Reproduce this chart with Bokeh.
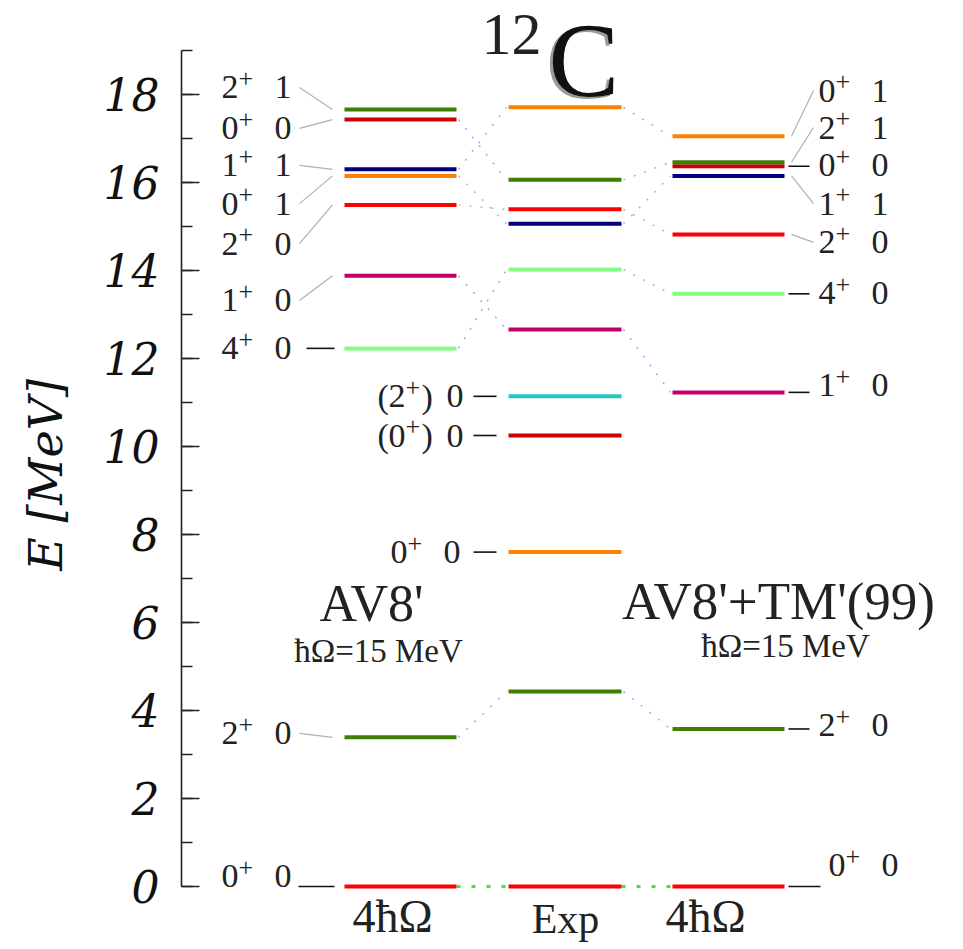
from bokeh.plotting import figure
from bokeh.models import ColumnDataSource, Range1d, FixedTicker
from bokeh.embed import file_html
from bokeh.resources import INLINE
from bokeh.core.properties import value

# ---------------- data ----------------
# AV8' , 4 hbar Omega, hbar Omega = 15 MeV
av8_E = [0.00, 3.39, 12.23, 13.88, 15.49, 16.15, 16.30, 17.43, 17.66]
av8_J = ["0", "2", "4", "1", "2", "0", "1", "0", "2"]
av8_T = ["0", "0", "0", "0", "0", "1", "1", "0", "1"]

# Experiment
exp_E = [0.00, 4.43, 7.60, 10.25, 11.14, 12.66, 14.02, 15.06, 15.39, 16.06, 17.71]
exp_lab_E = [7.60, 10.25, 11.14]
exp_lab_J = ["0", "0", "2"]
exp_lab_T = ["0", "0", "0"]
exp_lab_tentative = [False, True, True]

# AV8' + TM'(99), 4 hbar Omega
tm_E = [0.00, 3.58, 11.23, 13.47, 14.82, 16.15, 16.37, 16.46, 17.05]
tm_J = ["0", "2", "1", "4", "2", "1", "0", "2", "0"]
tm_T = ["0", "0", "0", "0", "0", "1", "0", "1", "1"]

y_ticks = [0, 2, 4, 6, 8, 10, 12, 14, 16, 18]

# ---------------- styles / layout ----------------
RED, GREEN, LGREEN, MAG = "#ff0000", "#3f7f00", "#80ff80", "#c0006a"
ORANGE, NAVY, DRED, CYAN = "#ff8000", "#000080", "#cc0000", "#20c8c8"
av8_colors = [RED, GREEN, LGREEN, MAG, RED, ORANGE, NAVY, DRED, GREEN]
exp_colors = [RED, GREEN, ORANGE, DRED, CYAN, MAG, LGREEN, NAVY, RED, GREEN, ORANGE]
tm_colors = [RED, GREEN, MAG, LGREEN, RED, NAVY, DRED, GREEN, ORANGE]

# label placement (label centre heights, MeV) and connector kind
av8_label_y = [0.23, 3.48, 12.23, 13.32, 14.61, 15.52, 16.39, 17.23, 18.16]
av8_conn = ["dash", "grey", "dash", "grey", "grey", "grey", "grey", "grey", "grey"]
tm_label_y = [0.48, 3.66, 11.39, 13.48, 14.64, 15.52, 16.39, 17.25, 18.09]
tm_conn = ["dash", "dash", "dash", "dash", "grey", "grey", "dash", "grey", "grey"]

# column x-extents (screen-like units)
COL_L = (344, 456)
COL_E = (508, 621)
COL_R = (672, 784)

Y0PX, PXPM = 886.0, 44.0          # pixel of E=0 and pixels per MeV
def py(px):
    return (Y0PX - px) / PXPM

# links between columns: (index, index, colour)
BLUE_D, BROWN_D, GREEN_D = "#8a90ff", "#c09898", "#60e060"
links_LE = [(1, 1, BLUE_D), (2, 6, BLUE_D), (3, 5, BLUE_D), (4, 8, GREEN_D),
            (5, 7, BROWN_D), (6, 10, BLUE_D), (7, 9, BLUE_D)]
links_ER = [(1, 1, BLUE_D), (5, 2, BLUE_D), (6, 3, BLUE_D), (8, 4, GREEN_D),
            (7, 5, BROWN_D), (9, 7, BLUE_D), (10, 8, BLUE_D)]

SERIF = value("Liberation Serif")

p = figure(width=963, height=949, output_backend="svg", toolbar_location=None,
           x_range=Range1d(181, 963), y_range=Range1d(py(949), py(0)),
           x_axis_location=None, min_border_left=181, min_border_right=0,
           min_border_top=0, min_border_bottom=0)
p.outline_line_color = None
p.xgrid.visible = False
p.ygrid.visible = False
p.background_fill_color = "white"
p.border_fill_color = "white"

ax = p.yaxis[0]
ax.ticker = FixedTicker(ticks=y_ticks, minor_ticks=list(range(0, 20)))
ax.bounds = (0, 19)
ax.axis_line_width = 1.6
ax.axis_line_color = "#222222"
ax.major_tick_in = 18
ax.major_tick_out = 0
ax.minor_tick_in = 11
ax.minor_tick_out = 0
ax.major_tick_line_width = 1.6
ax.minor_tick_line_width = 1.6
ax.major_tick_line_color = "#222222"
ax.minor_tick_line_color = "#222222"
ax.major_label_text_font = "DejaVu Serif"
ax.major_label_text_font_style = "italic"
ax.major_label_text_font_size = "44px"
ax.major_label_text_color = "#111111"
ax.major_label_standoff = 22
ax.axis_label = "E [MeV]"
ax.axis_label_text_font = "DejaVu Serif"
ax.axis_label_text_font_style = "italic"
ax.axis_label_text_font_size = "46px"
ax.axis_label_text_color = "#111111"
ax.axis_label_standoff = 28

# ---------------- connectors between columns ----------------
def add_links(links, EA, EB, colA, colB):
    for a, b, c in links:
        p.line([colA[1] + 2, colB[0] - 2], [EA[a], EB[b]], line_color=c,
               line_width=1.5, line_dash="2 9", line_alpha=0.8)

add_links(links_LE, av8_E, exp_E, COL_L, COL_E)
add_links(links_ER, exp_E, tm_E, COL_E, COL_R)
# ground state links
p.line([COL_L[1], COL_E[0]], [av8_E[0], exp_E[0]], line_color="#33ee33", line_width=3, line_dash="4 11")
p.line([COL_E[1], COL_R[0]], [exp_E[0], tm_E[0]], line_color="#33ee33", line_width=3, line_dash="4 11")

# ---------------- levels ----------------
def levels(E, colors, col):
    src = ColumnDataSource(dict(x0=[col[0]] * len(E), x1=[col[1]] * len(E), y=E, c=colors))
    p.segment(x0="x0", y0="y", x1="x1", y1="y", line_color="c", line_width=4,
              line_cap="butt", source=src)

levels(av8_E, av8_colors, COL_L)
levels(exp_E, exp_colors, COL_E)
levels(tm_E, tm_colors, COL_R)

# ---------------- state labels ----------------
dig = dict(x=[], y=[], t=[])
plus = dict(x=[], y=[], t=[])

def add_label(x, yv, J, T, paren=False):
    if paren:
        for dx, s in ((0, "("), (11, J), (44, ")"), (69, T)):
            dig["x"].append(x + dx); dig["y"].append(yv); dig["t"].append(s)
        plus["x"].append(x + 28); plus["y"].append(yv); plus["t"].append("+")
    else:
        for dx, s in ((0, J), (53, T)):
            dig["x"].append(x + dx); dig["y"].append(yv); dig["t"].append(s)
        plus["x"].append(x + 17); plus["y"].append(yv); plus["t"].append("+")

grey_seg = dict(x0=[], y0=[], x1=[], y1=[])
black_seg = dict(x0=[], y0=[], x1=[], y1=[])

# left column labels
for i in range(len(av8_E)):
    add_label(221, av8_label_y[i], av8_J[i], av8_T[i])
    if av8_conn[i] == "dash":
        x0 = 306 if i else 298
        black_seg["x0"].append(x0); black_seg["x1"].append(334)
        black_seg["y0"].append(av8_E[i]); black_seg["y1"].append(av8_E[i])
    else:
        grey_seg["x0"].append(299); grey_seg["x1"].append(332)
        grey_seg["y0"].append(av8_label_y[i]); grey_seg["y1"].append(av8_E[i])

# experimental labels
for E, J, T, tent in zip(exp_lab_E, exp_lab_J, exp_lab_T, exp_lab_tentative):
    add_label(377 if tent else 390, E, J, T, paren=tent)
    black_seg["x0"].append(473); black_seg["x1"].append(496)
    black_seg["y0"].append(E); black_seg["y1"].append(E)

# right column labels
for i in range(len(tm_E)):
    add_label(828 if i == 0 else 818, tm_label_y[i], tm_J[i], tm_T[i])
    if tm_conn[i] == "dash":
        x1 = 820 if i == 0 else 809
        black_seg["x0"].append(788); black_seg["x1"].append(x1)
        black_seg["y0"].append(tm_E[i]); black_seg["y1"].append(tm_E[i])
    else:
        grey_seg["x0"].append(791); grey_seg["x1"].append(813)
        grey_seg["y0"].append(tm_E[i]); grey_seg["y1"].append(tm_label_y[i])

p.segment(x0="x0", y0="y0", x1="x1", y1="y1", line_color="#b0b0b0", line_width=1.2,
          source=ColumnDataSource(grey_seg))
p.segment(x0="x0", y0="y0", x1="x1", y1="y1", line_color="#111111", line_width=1.6,
          source=ColumnDataSource(black_seg))

p.text(x="x", y="y", text="t", source=ColumnDataSource(dig), text_font=SERIF,
       text_font_size="34px", text_baseline="middle", text_align="left",
       y_offset=0, text_color="#222222")
p.text(x="x", y="y", text="t", source=ColumnDataSource(plus), text_font=SERIF,
       text_font_size="26px", text_baseline="middle", text_align="left",
       y_offset=-9, text_color="#222222")

# ---------------- annotations ----------------
def txt(x, ypx, s, size, align="center", baseline="middle", color="#222222", xo=0, yo=0):
    p.text(x=[x], y=[py(ypx)], text=[s], text_font=SERIF, text_font_size=size,
           text_align=align, text_baseline=baseline, text_color=color,
           x_offset=xo, y_offset=yo)

# title 12C with a faint shadow on the C
txt(481, 34, "12", "60px", align="left")
txt(548, 60, "C", "106px", align="left", color="#9a9a9a", xo=-3, yo=2)
txt(548, 60, "C", "106px", align="left", color="#111111")

txt(371, 603, "AV8'", "52px")
txt(378, 650, "\u0127\u03a9=15 MeV", "33px")
txt(778, 600, "AV8'+TM'(99)", "53px")
txt(785, 645, "\u0127\u03a9=15 MeV", "33px")

txt(392, 916, "4\u0127\u03a9", "46px")
txt(565, 918, "Exp", "42px")
txt(705, 916, "4\u0127\u03a9", "46px")

open("out.html", "w").write(file_html(p, INLINE))
